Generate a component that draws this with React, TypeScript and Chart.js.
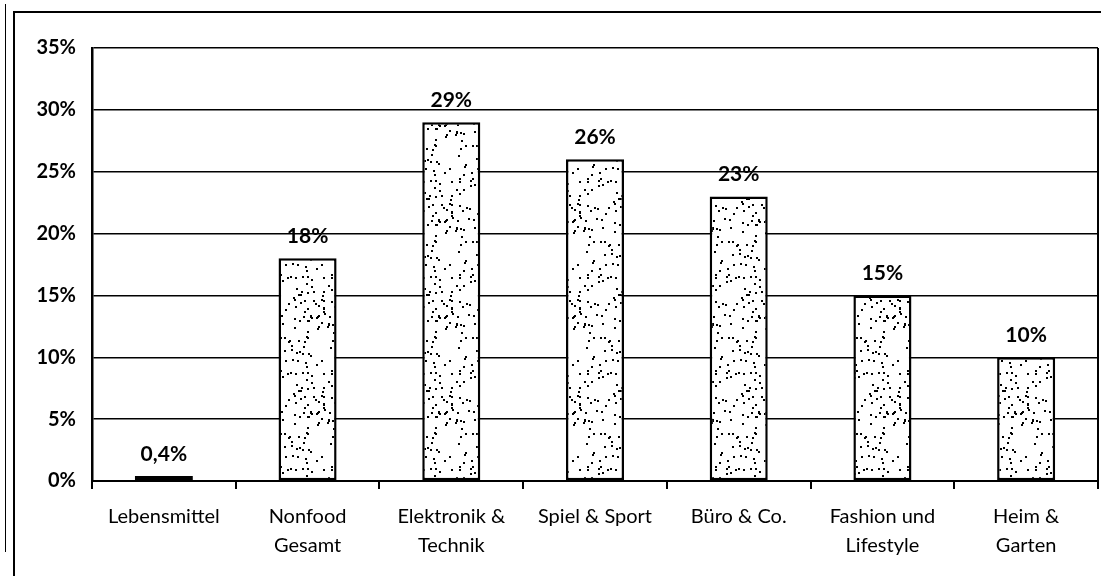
import React, { useEffect, useRef } from "react";
import { Chart, registerables } from "chart.js";
Chart.register(...registerables);

const categories: string[][] = [
  ["Lebensmittel"],
  ["Nonfood", "Gesamt"],
  ["Elektronik &", "Technik"],
  ["Spiel & Sport"],
  ["Büro & Co."],
  ["Fashion und", "Lifestyle"],
  ["Heim &", "Garten"],
];
const values = [0.4, 18, 29, 26, 23, 15, 10];
const valueLabels = ["0,4%", "18%", "29%", "26%", "23%", "15%", "10%"];
const yMin = 0;
const yMax = 35;
const yStep = 5;

const FONT = "Lato, 'DejaVu Sans', sans-serif";

function makeStipple(ctx: CanvasRenderingContext2D): CanvasPattern | string {
  const c = document.createElement("canvas");
  c.width = 64;
  c.height = 96;
  const g = c.getContext("2d");
  if (!g) return "#fff";
  g.fillStyle = "#fff";
  g.fillRect(0, 0, 64, 96);
  let s = 98765;
  const rnd = () => {
    s = (s * 1103515245 + 12345) & 0x7fffffff;
    return s / 0x7fffffff;
  };
  g.fillStyle = "#000";
  for (let i = 0; i < 105; i++) {
    g.fillRect(Math.floor(rnd() * 63), Math.floor(rnd() * 95), 2, 2);
  }
  return ctx.createPattern(c, "repeat") || "#fff";
}

const overlay = {
  id: "overlay",
  afterDatasetsDraw(chart: any) {
    const { ctx, chartArea } = chart;
    ctx.save();
    ctx.strokeStyle = "#000";
    ctx.lineWidth = 2;
    ctx.beginPath();
    ctx.moveTo(chartArea.right, chartArea.top);
    ctx.lineTo(chartArea.right, chartArea.bottom);
    ctx.stroke();
    const meta = chart.getDatasetMeta(0);
    ctx.font = `bold 21px ${FONT}`;
    ctx.textAlign = "center";
    ctx.textBaseline = "middle";
    ctx.fillStyle = "#000";
    meta.data.forEach((bar: any, i: number) => {
      ctx.fillText(valueLabels[i], bar.x, bar.y - 22);
    });
    ctx.restore();
  },
};

export default function App() {
  const ref = useRef<HTMLCanvasElement>(null);
  useEffect(() => {
    const canvas = ref.current;
    if (!canvas) return;
    const ctx = canvas.getContext("2d")!;
    const pattern = makeStipple(ctx);
    const chart = new Chart(canvas, {
      type: "bar",
      data: {
        labels: categories,
        datasets: [
          {
            data: values,
            backgroundColor: pattern as any,
            borderColor: "#000",
            borderWidth: 2.5,
            borderSkipped: false,
            barPercentage: 0.404,
            categoryPercentage: 1,
          },
        ],
      },
      options: {
        responsive: false,
        animation: false,
        layout: { padding: { left: 14, right: 3, top: 48, bottom: 0 } },
        plugins: { legend: { display: false }, tooltip: { enabled: false } },
        scales: {
          x: {
            offset: true,
            grid: {
              drawOnChartArea: false,
              drawTicks: true,
              tickLength: 8,
              color: "#000",
              lineWidth: 2,
              offset: true,
            },
            border: { color: "#000", width: 2 },
            ticks: {
              color: "#000",
              font: { family: FONT, size: 20, lineHeight: 1.45 },
              padding: 13,
              maxRotation: 0,
              autoSkip: false,
            },
            afterFit: (s: any) => {
              s.height = 95;
            },
          },
          y: {
            min: yMin,
            max: yMax,
            grid: { color: "#000", lineWidth: 1.5, drawTicks: false },
            border: { color: "#000", width: 2.5 },
            ticks: {
              stepSize: yStep,
              color: "#000",
              padding: 16,
              font: { family: FONT, size: 20, weight: "bold" },
              callback: (v: any) => `${v}%`,
            },
            afterFit: (s: any) => {
              s.width = 78;
            },
          },
        },
      },
      plugins: [overlay],
    });
    return () => chart.destroy();
  }, []);

  return (
    <div
      style={{
        position: "fixed",
        left: 0,
        top: 0,
        width: 1101,
        height: 576,
        background: "#fff",
        overflow: "hidden",
      }}
    >
      <div
        style={{
          position: "absolute",
          left: 5,
          top: 4,
          width: 0,
          height: 548,
          borderLeft: "1px solid #000",
        }}
      />
      <div
        style={{
          position: "absolute",
          left: 13,
          top: 11,
          width: 1101,
          height: 600,
          borderLeft: "2px solid #000",
          borderTop: "2px solid #000",
        }}
      />
      <canvas
        ref={ref}
        width={1101}
        height={576}
        style={{ position: "absolute", left: 0, top: 0 }}
      />
    </div>
  );
}
